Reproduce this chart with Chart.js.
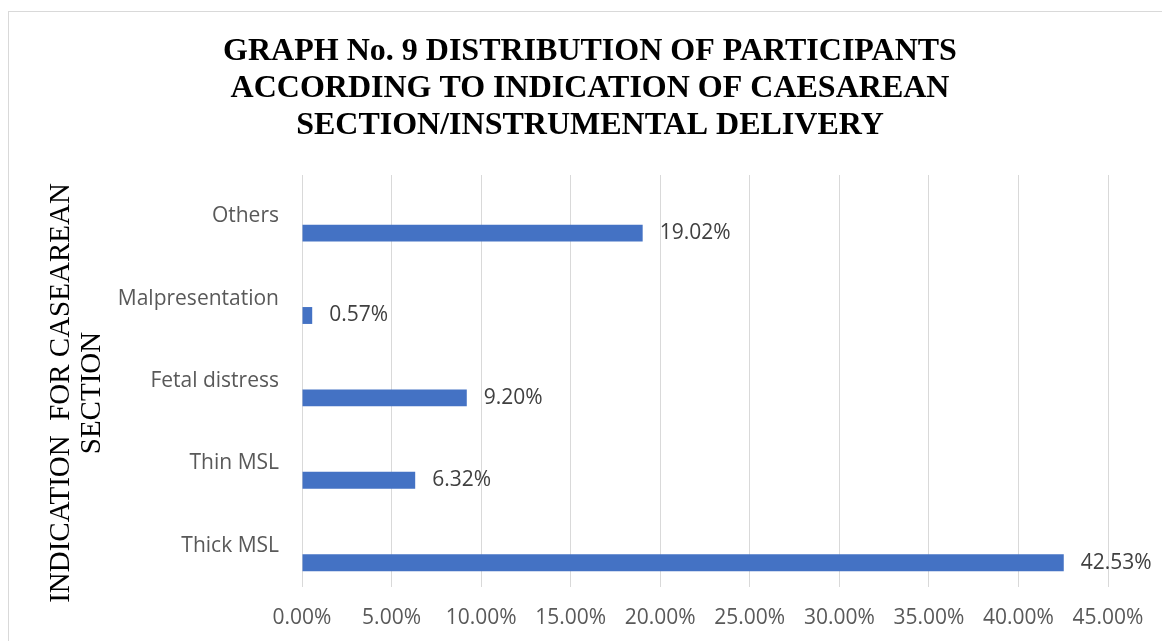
<!DOCTYPE html>
<html>
<head>
<meta charset="utf-8">
<script src="https://cdn.jsdelivr.net/npm/chart.js@4.4.1/dist/chart.umd.min.js"></script>
<style>
    html, body { margin: 0; padding: 0; background: #fff; overflow: hidden; }
    #frame {
        position: absolute; left: 8px; top: 11px;
        width: 1170px; height: 660px;
        border: 1px solid #d9d9d9; box-sizing: border-box;
    }
    #indicationChart { position: absolute; left: 0; top: 0; }
</style>
</head>
<body>
<div id="frame"></div>
<canvas id="indicationChart" width="1180" height="641"></canvas>
<script>
// Indications, bottom to top as listed on the axis
var categories = ['Thick MSL', 'Thin MSL', 'Fetal distress', 'Malpresentation', 'Others'];
var shares = [42.53, 6.32, 9.20, 0.57, 19.02];
// second series of the sheet has no values, it only reserves its slot in each group
var emptySeries = [null, null, null, null, null];
var xTickValues = [0, 5, 10, 15, 20, 25, 30, 35, 40, 45];

var titleLines = [
    'GRAPH No. 9 DISTRIBUTION OF PARTICIPANTS',
    'ACCORDING TO INDICATION OF CAESAREAN',
    'SECTION/INSTRUMENTAL DELIVERY'
];
var yTitleLines = ['INDICATION  FOR CASEAREAN', 'SECTION'];

var labelFont = '21px "Open Sans", sans-serif';

function pct(v) {
    return Number(v).toFixed(2) + '%';
}

// value labels at the end of each bar
var barValueLabels = {
    id: 'barValueLabels',
    afterDatasetsDraw: function (chart) {
        var ctx = chart.ctx;
        var meta = chart.getDatasetMeta(1);
        ctx.save();
        ctx.font = labelFont;
        ctx.fillStyle = '#404040';
        ctx.textAlign = 'left';
        ctx.textBaseline = 'middle';
        meta.data.forEach(function (bar, i) {
            ctx.fillText(pct(shares[i]), bar.x + 17, bar.y);
        });
        ctx.restore();
    }
};

// rotated axis title, centred on the whole chart height like the sheet does
var sideTitle = {
    id: 'sideTitle',
    afterDraw: function (chart) {
        var ctx = chart.ctx;
        ctx.save();
        ctx.font = '29px "Liberation Serif", "Times New Roman", serif';
        ctx.fillStyle = '#000';
        ctx.textAlign = 'center';
        ctx.textBaseline = 'middle';
        ctx.translate(61, 393);
        ctx.rotate(-Math.PI / 2);
        yTitleLines.forEach(function (line, i) {
            ctx.fillText(line, 0, i * 31);
        });
        ctx.restore();
    }
};

var canvas = document.getElementById('indicationChart');
var chart = new Chart(canvas.getContext('2d'), {
    type: 'bar',
    data: {
        labels: categories,
        datasets: [{
            label: 'Series2',
            data: emptySeries,
            backgroundColor: '#ed7d31'
        }, {
            label: 'Series1',
            data: shares,
            backgroundColor: '#4472c4',
            borderWidth: 0
        }]
    },
    options: {
        responsive: false,
        animation: false,
        indexAxis: 'y',
        categoryPercentage: 0.82,
        barPercentage: 0.5,
        layout: {
            padding: { top: 0, left: 0, right: 0, bottom: 14 }
        },
        scales: {
            x: {
                min: 0,
                max: 45,
                afterBuildTicks: function (scale) {
                    scale.ticks = xTickValues.map(function (v) { return { value: v }; });
                },
                afterFit: function (scale) {
                    scale.paddingRight = 72;
                    scale.height = 40;
                },
                grid: {
                    color: '#d9d9d9',
                    drawTicks: false
                },
                border: { display: false },
                ticks: {
                    padding: 18,
                    color: '#595959',
                    font: { family: '"Open Sans", sans-serif', size: 21 },
                    maxRotation: 0,
                    callback: function (value) { return pct(value); }
                }
            },
            y: {
                reverse: true,
                afterFit: function (scale) {
                    scale.width = 302;
                },
                grid: { display: false, drawTicks: false },
                border: { display: false },
                ticks: {
                    padding: 23,
                    color: '#595959',
                    font: { family: '"Open Sans", sans-serif', size: 21 }
                }
            }
        },
        plugins: {
            legend: { display: false },
            tooltip: { enabled: false },
            title: {
                display: true,
                text: titleLines,
                color: '#000',
                font: { family: '"Liberation Serif", "Times New Roman", serif', size: 32, weight: 'bold', lineHeight: '37px' },
                padding: { top: 33, bottom: 31 }
            }
        }
    },
    plugins: [barValueLabels, sideTitle]
});
</script>
</body>
</html>
